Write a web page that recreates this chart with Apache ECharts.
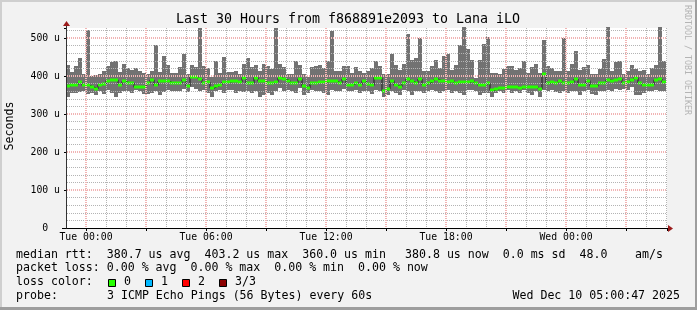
<!DOCTYPE html>
<html><head><meta charset="utf-8">
<script src="https://cdn.jsdelivr.net/npm/echarts@6/dist/echarts.min.js"></script>
<style>html,body{margin:0;padding:0;background:#f2f2f2}#c{width:697px;height:310px}</style>
</head><body><div id="c"></div>
<script>
// ---- data (minutes relative to Tue 00:00; values in microseconds) ----
const BIN_MINUTES = 12;
const FIRST_BIN_START = -60;
const maxRtt = [
430,410,425,448,405,520,400,403,405,413,425,436,440,410,432,421,417,421,414,408,406,412,482,410,453,
428,408,408,423,458,404,430,424,526,425,421,397,439,408,451,410,410,412,404,432,447,424,430,412,432,
425,419,526,432,423,404,404,439,430,405,397,423,425,430,421,439,519,412,412,425,425,408,423,412,408,
412,421,440,425,404,404,459,430,417,432,511,443,447,500,414,414,425,441,421,452,459,417,430,482,528,
472,443,395,443,484,503,408,408,404,419,425,425,417,421,440,408,424,432,408,495,425,421,414,412,500,
412,432,467,417,423,430,404,404,418,446,528,414,437,440,406,414,428,418,412,417,404,421,430,528,440];
const minRtt = [
344,355,355,358,360,353,355,350,360,353,362,355,344,355,360,360,356,364,360,352,352,356,360,350,358,
362,360,360,360,367,357,370,367,361,364,355,344,360,363,355,363,363,355,361,357,360,355,360,346,351,
355,351,360,368,360,364,361,355,368,351,355,364,360,361,355,351,364,360,361,366,360,360,364,355,361,
360,353,364,361,346,351,361,355,351,364,360,351,361,360,355,360,364,361,355,360,364,355,361,355,351,
362,364,360,351,355,355,344,355,360,355,362,355,360,355,362,355,349,360,344,362,360,364,358,355,360,
355,361,360,351,361,364,353,349,360,361,364,360,367,364,367,364,370,351,351,355,361,361,364,360,361];
const medRtt = [
374,377,377,383,375,375,371,366,377,379,388,390,390,377,386,382,382,370,370,370,382,390,375,386,386,
386,381,381,381,390,373,398,398,392,382,384,368,373,377,384,384,386,386,384,396,381,381,396,386,386,
381,381,384,395,392,388,382,382,393,373,368,382,382,384,383,386,388,386,381,392,377,377,382,377,388,
379,375,396,396,361,366,388,375,372,381,392,386,381,392,377,381,386,392,388,386,384,388,381,384,384,
383,388,381,375,377,381,362,366,368,368,370,370,371,368,372,372,370,372,366,404,381,383,381,388,381,
381,383,392,377,377,388,373,373,381,381,390,388,390,393,382,384,390,396,381,375,375,377,390,392,384];
const xTickLabels = ['Tue 00:00','Tue 06:00','Tue 12:00','Tue 18:00','Wed 00:00'];
const yTickLabels = ['0  ','100 u','200 u','300 u','400 u','500 u'];
const lossColors = [['0','#26ff00'],['1','#00b8ff'],['2','#ff0000'],['3/3','#8b0000']];

// ---- layout (20 px per hour, 0.38 px per microsecond) ----
const FONT = '"DejaVu Sans Mono", monospace';
const pxPerMin = 1 / 3, pxPerU = 0.38;
const gridL = 67, gridW = 600, gridTop = 28, gridH = 200;
const yMax = gridH / pxPerU;
const x0px = 86;                         // pixel of Tue 00:00
const xMin = -(x0px - gridL) / pxPerMin;
const xMax = xMin + gridW / pxPerMin;
const xPos = t => gridL + (t - xMin) * pxPerMin;
const plotRight = gridL + gridW;
const minorC = '#b4b4b4', majorC = '#f1b4b4';
const dash = [1, 1];

const times = medRtt.map((_, i) => FIRST_BIN_START + i * BIN_MINUTES);
const smokeData = medRtt.map((m, i) => [times[i], minRtt[i], maxRtt[i], m]);
const lineData = medRtt.map((m, i) => [times[i], m]);
lineData.push([times[times.length - 1] + BIN_MINUTES, medRtt[medRtt.length - 1]]);

function clipX(params, x0, x1) {
  const r = params.coordSys;
  return [Math.max(x0, Math.round(r.x)), Math.min(x1, Math.round(r.x + r.width))];
}

const grids = [], xAxes = [], yAxes = [];
const hiddenAxis = (gi, max) => ({gridIndex: gi, type: 'value', min: 0, max, show: false});
grids.push({left: gridL, top: gridTop, width: gridW, height: gridH, show: true, backgroundColor: '#ffffff', borderWidth: 0});
xAxes.push({gridIndex: 0, type: 'value', min: xMin, max: xMax, position: 'bottom',
  axisLine: {show: false, onZero: false}, axisTick: {show: false}, axisLabel: {show: false}, splitLine: {show: false}});
yAxes.push({gridIndex: 0, type: 'value', min: 0, max: yMax, interval: 100, position: 'left', z: 6,
  axisLine: {show: false, onZero: false},
  axisTick: {show: true, length: 3, lineStyle: {color: '#000'}},
  axisLabel: {show: true, margin: 7, fontFamily: FONT, fontSize: 9.8, color: '#000',
    formatter: v => (v % 100 === 0 && yTickLabels[v / 100]) ? yTickLabels[v / 100] : ''},
  splitLine: {show: true, showMinLine: false, showMaxLine: false, lineStyle: {color: majorC, type: dash, width: 2}}});
{
  const l = xPos(0), w = plotRight - l;
  grids.push({left: l, top: gridTop, width: w, height: gridH, show: false});
  xAxes.push({gridIndex: 1, type: 'value', min: 0, max: w / pxPerMin, interval: 180, position: 'bottom', z: 6,
    axisLine: {show: false, onZero: false},
    axisTick: {show: true, length: 3, lineStyle: {color: '#000'}},
    axisLabel: {show: true, margin: 4, fontFamily: FONT, fontSize: 9.8, color: '#000',
      formatter: v => (v % 360 === 0 && xTickLabels[v / 360]) ? xTickLabels[v / 360] : ''},
    splitLine: {show: true, showMaxLine: false, lineStyle: {color: majorC, type: dash, width: 2}}});
  yAxes.push(hiddenAxis(1, yMax));
}
[60, 120].forEach(off => {
  const gi = grids.length, l = xPos(off), w = plotRight - l;
  grids.push({left: l, top: gridTop, width: w, height: gridH, show: false});
  xAxes.push({gridIndex: gi, type: 'value', min: 0, max: w / pxPerMin, interval: 180, position: 'bottom', z: 5,
    axisLine: {show: false, onZero: false}, axisTick: {show: false}, axisLabel: {show: false},
    splitLine: {show: true, showMaxLine: false, lineStyle: {color: minorC, type: dash, width: 1}}});
  yAxes.push(hiddenAxis(gi, yMax));
});
[20, 40, 60, 80].forEach(off => {
  const gi = grids.length, h = gridH - off * pxPerU;
  grids.push({left: gridL, top: gridTop, width: gridW, height: h, show: false});
  xAxes.push(hiddenAxis(gi, 100));
  yAxes.push({gridIndex: gi, type: 'value', min: 0, max: yMax - off, interval: 100, position: 'left', z: 5,
    axisLine: {show: false, onZero: false}, axisTick: {show: false}, axisLabel: {show: false},
    splitLine: {show: true, showMaxLine: false, lineStyle: {color: minorC, type: dash, width: 1}}});
});

const chart = echarts.init(document.getElementById('c'), null, {renderer: 'canvas'});
const txt = (text, x, y, extra) => Object.assign({type: 'text', x, y, silent: true,
  style: Object.assign({text, font: '11.6px ' + FONT, fill: '#000', align: 'left', verticalAlign: 'middle'}, extra || {})});

const legendGraphics = [
  txt('median rtt:  380.7 us avg  403.2 us max  360.0 us min', 16, 254.5),
  txt('380.8 us now  0.0 ms sd  48.0', 405, 254.5),
  txt('am/s', 635, 254.5),
  txt('packet loss: 0.00 % avg  0.00 % max  0.00 % min  0.00 % now', 16, 268),
  txt('loss color:', 16, 282),
  txt('probe:', 16, 296), txt('3 ICMP Echo Pings (56 Bytes) every 60s', 107, 296),
  txt('Wed Dec 10 05:00:47 2025', 680, 296, {align: 'right'})
];
const boxX = [108.5, 145.5, 182.5, 219.5];
lossColors.forEach((lc, k) => {
  legendGraphics.push({type: 'rect', shape: {x: boxX[k], y: 279.5, width: 7, height: 7},
    style: {fill: lc[1], stroke: '#000', lineWidth: 1}, silent: true});
  legendGraphics.push(txt(lc[0], boxX[k] + 15.5, 282));
});

const option = {
  animation: false,
  backgroundColor: '#f2f2f2',
  grid: grids, xAxis: xAxes, yAxis: yAxes,
  series: [
    {type: 'custom', name: 'smoke', xAxisIndex: 0, yAxisIndex: 0, z: 2, data: smokeData,
     renderItem: (params, api) => {
       const a = api.coord([api.value(0), api.value(1)]);
       const b = api.coord([api.value(0) + BIN_MINUTES, api.value(2)]);
       const xs = clipX(params, Math.round(a[0]), Math.round(b[0]));
       return {type: 'rect', shape: {x: xs[0], y: Math.round(b[1]), width: xs[1] - xs[0], height: Math.round(a[1]) - Math.round(b[1])},
         style: {fill: '#727272'}};
     }},
    {type: 'line', name: 'median', xAxisIndex: 0, yAxisIndex: 0, z: 3, data: lineData, step: 'end',
     showSymbol: false, symbol: 'none', lineStyle: {color: '#1c1c1c', width: 1}},
    {type: 'custom', name: 'medianBand', xAxisIndex: 0, yAxisIndex: 0, z: 4, data: smokeData,
     renderItem: (params, api) => {
       const a = api.coord([api.value(0), api.value(3)]);
       const b = api.coord([api.value(0) + BIN_MINUTES, api.value(3)]);
       const xs = clipX(params, Math.round(a[0]), Math.round(b[0]));
       return {type: 'rect', shape: {x: xs[0], y: Math.round(a[1]) - 1.5, width: xs[1] - xs[0], height: 3},
         style: {fill: '#26ff00'}};
     }}
  ],
  graphic: [
    {type: 'rect', shape: {x: 0, y: 0, width: 697, height: 2}, style: {fill: '#cfcfcf'}, silent: true},
    {type: 'rect', shape: {x: 0, y: 0, width: 2, height: 310}, style: {fill: '#cfcfcf'}, silent: true},
    {type: 'rect', shape: {x: 0, y: 307, width: 697, height: 3}, style: {fill: '#9e9e9e'}, silent: true},
    {type: 'rect', shape: {x: 695, y: 0, width: 2, height: 310}, style: {fill: '#9e9e9e'}, silent: true},
    {type: 'line', shape: {x1: 62, y1: 228.5, x2: 669, y2: 228.5}, style: {stroke: '#000', lineWidth: 1}, silent: true, z: 10},
    {type: 'line', shape: {x1: 66.5, y1: 228.5, x2: 66.5, y2: 23}, style: {stroke: '#333', lineWidth: 1}, silent: true, z: 10},
    {type: 'polygon', shape: {points: [[668, 225], [673, 228.5], [668, 232]]}, style: {fill: '#9b1c1c'}, silent: true, z: 11},
    {type: 'polygon', shape: {points: [[63, 26], [66.5, 21], [70, 26]]}, style: {fill: '#9b1c1c'}, silent: true, z: 11},
    txt('Last 30 Hours from f868891e2093 to Lana iLO', 348, 19.5, {font: '13.3px ' + FONT, align: 'center'}),
    Object.assign(txt('Seconds', 10, 126, {align: 'center'}), {rotation: Math.PI / 2}),
    Object.assign(txt('RRDTOOL / TOBI OETIKER', 687.5, 60, {align: 'center', font: '8.3px ' + FONT, fill: '#b4b4b4'}), {rotation: -Math.PI / 2})
  ].concat(legendGraphics)
};
chart.setOption(option);
</script></body></html>
